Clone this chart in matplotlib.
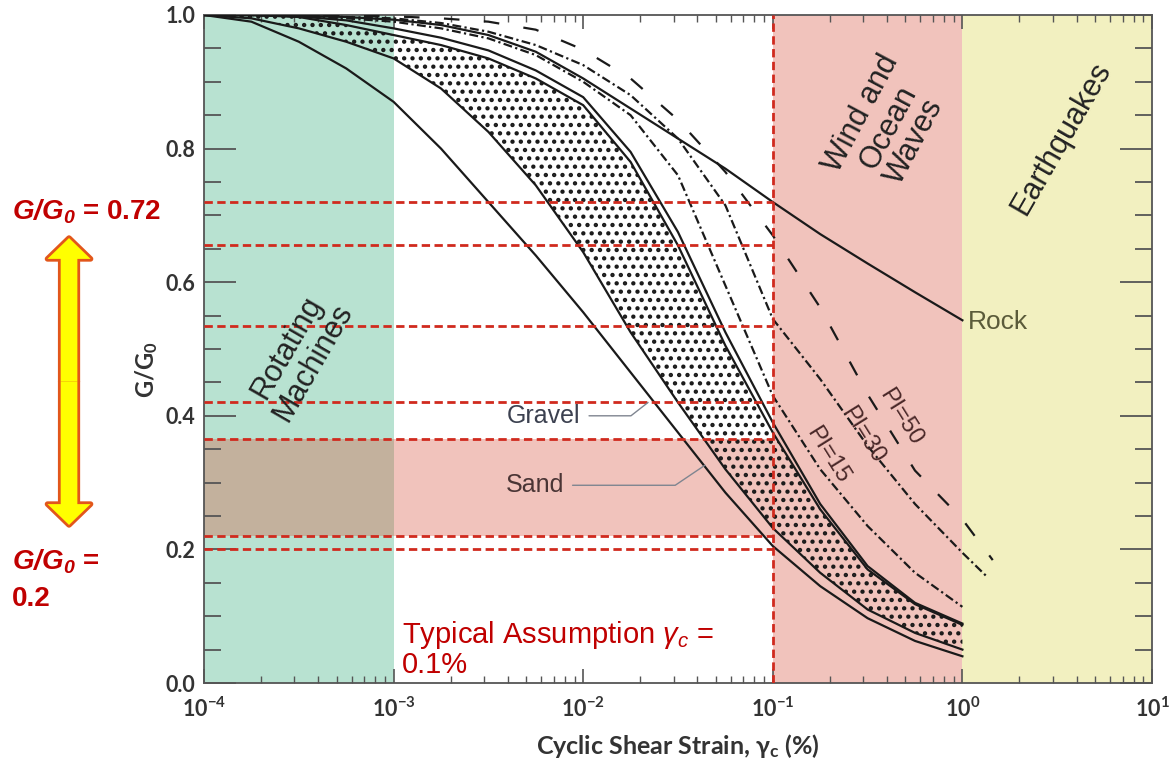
"""
Modulus reduction curves with loading-type zones (G/G0 vs cyclic shear strain)
"""
import matplotlib
matplotlib.use("Agg")
import matplotlib.patches as mpatches
import numpy as np
from matplotlib import pyplot as plt
from matplotlib.ticker import FuncFormatter, LogLocator, MultipleLocator

# ---- data ------------------------------------------------------------------
# strain grid, log10 of cyclic shear strain in %
LOG_X = [-4, -3.75, -3.5, -3.25, -3, -2.75, -2.5, -2.25, -2, -1.75, -1.5, -1.25, -1, -0.75, -0.5, -0.25, 0]
LOG_X_PI30 = LOG_X + [0.13]
LOG_X_PI50 = LOG_X + [0.16]

gravel = [1.0, 0.99, 0.96, 0.92, 0.87, 0.80, 0.72, 0.64, 0.555, 0.465, 0.375, 0.285, 0.205, 0.145, 0.097, 0.063, 0.04]
band_lower = [1.0, 0.995, 0.98, 0.96, 0.935, 0.89, 0.825, 0.745, 0.645, 0.525, 0.42, 0.32, 0.232, 0.165, 0.11, 0.075, 0.05]
band_upper = [1.0, 1.0, 0.997, 0.985, 0.97, 0.955, 0.935, 0.905, 0.865, 0.78, 0.655, 0.505, 0.375, 0.26, 0.17, 0.118, 0.087]
band_upper_2 = [1.0, 1.0, 0.998, 0.992, 0.98, 0.966, 0.947, 0.917, 0.877, 0.795, 0.675, 0.525, 0.39, 0.268, 0.175, 0.12, 0.089]
pi15 = [1.0, 1.0, 0.998, 0.995, 0.99, 0.98, 0.965, 0.94, 0.9, 0.85, 0.76, 0.595, 0.43, 0.32, 0.235, 0.165, 0.114]
pi30 = [1.0, 1.0, 0.999, 0.997, 0.995, 0.988, 0.975, 0.955, 0.925, 0.88, 0.815, 0.715, 0.545, 0.455, 0.355, 0.268, 0.195, 0.159]
pi50 = [1.0, 1.0, 1.0, 0.999, 0.998, 0.995, 0.99, 0.978, 0.948, 0.905, 0.843, 0.765, 0.67, 0.562, 0.432, 0.318, 0.245, 0.184]
rock = [1.0, 1.0, 0.999, 0.997, 0.993, 0.985, 0.97, 0.945, 0.905, 0.86, 0.815, 0.77, 0.72, 0.672, 0.628, 0.585, 0.543]

GUIDE_LEVELS = [0.72, 0.655, 0.535, 0.42, 0.365, 0.22, 0.20]
BAND = (0.22, 0.365)
TYPICAL_STRAIN = 0.1
ZONE_EDGES = [1e-4, 1e-3, 1e-1, 1e0, 1e1]

# ---- style ------------------------------------------------------------------
GREEN = "#b8e2d1"
PINK = "#f1c3bc"
BROWN = "#c3b19d"
YELLOW = "#f2f0c0"
RED = "#d02a1e"
RED_TEXT = "#c00000"
INK = "#1a1a1a"
LW = 1.6

plt.rcParams["mathtext.fontset"] = "custom"
plt.rcParams["mathtext.rm"] = "Lato:bold"
plt.rcParams["mathtext.bf"] = "Lato:bold"
plt.rcParams["mathtext.it"] = "Liberation Sans:italic"
plt.rcParams["mathtext.sf"] = "Liberation Sans:bold:italic"
plt.rcParams["hatch.linewidth"] = 1.9
plt.rcParams["font.family"] = "Liberation Sans"

x = 10 ** np.array(LOG_X)
x30 = 10 ** np.array(LOG_X_PI30)
x50 = 10 ** np.array(LOG_X_PI50)

fig = plt.figure(figsize=(11.7, 7.63), dpi=100)
ax = fig.add_axes([204 / 1170, 1 - 683 / 763, 948 / 1170, 668 / 763])
ax.set_xscale("log")
ax.set_xlim(ZONE_EDGES[0], ZONE_EDGES[-1])
ax.set_ylim(0, 1)

# zones
ax.axvspan(ZONE_EDGES[0], ZONE_EDGES[1], color=GREEN, lw=0, zorder=0)
ax.axvspan(ZONE_EDGES[2], ZONE_EDGES[3], color=PINK, lw=0, zorder=0)
ax.axvspan(ZONE_EDGES[3], ZONE_EDGES[4], color=YELLOW, lw=0, zorder=0)
ax.fill_between(ZONE_EDGES[0:2], BAND[0], BAND[1], color=BROWN, lw=0, zorder=0.5)
ax.fill_between(ZONE_EDGES[1:3], BAND[0], BAND[1], color=PINK, lw=0, zorder=0.5)

# stippled band
ax.fill_between(x, band_lower, band_upper, facecolor="none", edgecolor=INK, lw=0,
                hatch="..", zorder=2)

# curves
for vals in (gravel, band_lower, band_upper, band_upper_2, rock):
    ax.plot(x, vals, color=INK, lw=LW, zorder=3)
ax.plot(x, pi15, color=INK, lw=LW, dashes=(4, 1.5, 1, 1.5), zorder=3)
ax.plot(x30, pi30, color=INK, lw=LW, dashes=(4, 1.5, 1, 1.5), zorder=3)
ax.plot(x50, pi50, color=INK, lw=LW, dashes=(7, 11), zorder=3)

# red guide lines
ax.hlines(GUIDE_LEVELS, ZONE_EDGES[0], TYPICAL_STRAIN, colors=RED, lw=2,
          linestyles=(0, (3, 1.6)), zorder=4)
ax.axvline(TYPICAL_STRAIN, color=RED, lw=2, ls=(0, (3, 1.6)), zorder=4)

# axes look
for s in ax.spines.values():
    s.set_color("#555555")
    s.set_linewidth(1.3)
ax.yaxis.set_major_locator(MultipleLocator(0.2))
ax.yaxis.set_minor_locator(MultipleLocator(0.05))
ax.xaxis.set_major_locator(LogLocator(base=10, numticks=10))
ax.xaxis.set_minor_locator(LogLocator(base=10, subs=np.arange(2, 10), numticks=20))
ax.yaxis.set_major_formatter(FuncFormatter(lambda v, p: f"{v:.1f}"))
ax.xaxis.set_major_formatter(FuncFormatter(lambda v, p: r"$10^{%d}$" % round(np.log10(v))))
ax.tick_params(which="both", direction="in", top=True, right=True, color="#555555",
               labelcolor="#333333")
ax.tick_params(axis="y", which="major", length=23, width=1.3, pad=6)
ax.tick_params(axis="y", which="minor", length=12, width=1.3)
ax.tick_params(axis="x", which="major", length=10, width=1.2, pad=10)
ax.tick_params(axis="x", which="minor", length=5, width=1.0)
for lab in ax.get_yticklabels() + ax.get_xticklabels():
    lab.set_fontfamily("Lato")
    lab.set_fontweight("bold")
    lab.set_fontsize(15.5)

ax.set_xlabel(r"Cyclic Shear Strain, $\mathbf{\gamma_c}$ (%)", family="Lato", weight="bold",
              size=18, color="#333333", labelpad=8)
ax.set_ylabel(r"G/G$_0$", family="Lato", weight="bold", size=17, color="#333333")
ax.yaxis.set_label_coords(-0.046, 0.469)

# zone labels
ax.text(10 ** -3.494, 0.491, "Rotating\nMachines", rotation=60, ha="center", va="center",
        size=22, color="#222222", linespacing=1.0, zorder=5)
ax.text(10 ** -0.392, 0.832, "Wind and\nOcean\nWaves", rotation=62, ha="center", va="center",
        size=22, color="#222222", linespacing=1.0, zorder=5)
ax.text(10 ** 0.52, 0.816, "Earthquakes", rotation=60, ha="center", va="center",
        size=22, color="#222222", zorder=5)

# curve labels
ax.text(10 ** 0.03, 0.541, "Rock", ha="left", va="center", size=19, color="#5b5b3a", zorder=5)
ax.text(10 ** -0.324, 0.398, "PI=50", rotation=-58, ha="center", va="center", size=17,
        color="#4a2828", zorder=5)
ax.text(10 ** -0.524, 0.371, "PI=30", rotation=-58, ha="center", va="center", size=17,
        color="#4a2828", zorder=5)
ax.text(10 ** -0.709, 0.341, "PI=15", rotation=-58, ha="center", va="center", size=17,
        color="#4a2828", zorder=5)
ax.annotate("Gravel", xy=(10 ** -1.658, 0.42), xytext=(10 ** -2.207, 0.40), ha="center",
            va="center", size=18, color="#3c4150", zorder=5,
            arrowprops=dict(arrowstyle="-", color="#7f8590", lw=1,
                            connectionstyle="angle,angleA=0,angleB=38,rad=0",
                            shrinkA=4, shrinkB=0))
ax.annotate("Sand", xy=(10 ** -1.358, 0.326), xytext=(10 ** -2.254, 0.296), ha="center",
            va="center", size=18, color="#4a3535", zorder=5,
            arrowprops=dict(arrowstyle="-", color="#7f8590", lw=1,
                            connectionstyle="angle,angleA=0,angleB=34,rad=0",
                            shrinkA=4, shrinkB=0))
ax.text(10 ** -2.956, 0.006, "Typical Assumption $\\gamma_c$ =\n0.1%", ha="left", va="bottom",
        size=21, color=RED_TEXT, linespacing=1.0, zorder=5)

# left side: range arrow and limits
for tip in (0.688, 0.312):
    fig.add_artist(mpatches.FancyArrowPatch(
        (0.059, 0.5), (0.059, tip), transform=fig.transFigure, mutation_scale=20,
        arrowstyle="simple,head_length=0.75,head_width=1.55,tail_width=0.6",
        fc="#ffff00", ec="#e2561b", lw=4, shrinkA=0, shrinkB=0))
for tip in (0.688, 0.312):
    fig.add_artist(mpatches.FancyArrowPatch(
        (0.059, 0.5), (0.059, tip), transform=fig.transFigure, mutation_scale=20,
        arrowstyle="simple,head_length=0.75,head_width=1.55,tail_width=0.6",
        fc="#ffff00", ec="none", lw=0, shrinkA=0, shrinkB=0))

fig.text(0.0103, 1 - 219 / 763, r"$\mathsf{G/G_0}$ = 0.72", ha="left", va="baseline",
         size=20, weight="bold", color=RED_TEXT)
fig.text(0.0103, 1 - 570 / 763, r"$\mathsf{G/G_0}$ =", ha="left", va="baseline",
         size=20, weight="bold", color=RED_TEXT)
fig.text(0.0103, 1 - 606 / 763, "0.2", ha="left", va="baseline",
         size=20, weight="bold", color=RED_TEXT)

fig.savefig("out.png", dpi=100)
